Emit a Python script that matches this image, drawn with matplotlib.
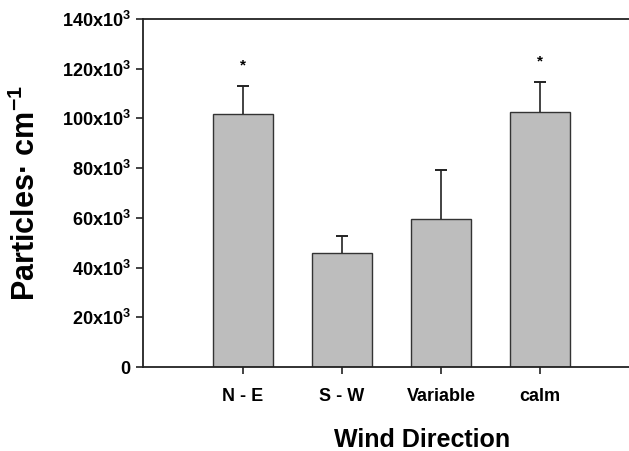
"""
plot.py

Particle number concentration by wind direction (bar chart with upper error bars).
"""

import matplotlib

matplotlib.use("Agg")
import matplotlib.pyplot as plt
import matplotlib.ticker as mtick

plt.rcParams["font.family"] = ["Liberation Sans", "DejaVu Sans"]
plt.rcParams["mathtext.fontset"] = "custom"
plt.rcParams["mathtext.rm"] = "Liberation Sans:bold"
plt.rcParams["mathtext.it"] = "Liberation Sans:bold"
plt.rcParams["mathtext.bf"] = "Liberation Sans:bold"

directions = ["N - E", "S - W", "Variable", "calm"]
particles = [101800, 45700, 59500, 102700]
errors = [11100, 7100, 19600, 11900]
significant = [True, False, False, True]

y_ticks = [0, 20000, 40000, 60000, 80000, 100000, 120000, 140000]


def thousands(x, pos):
    """Format y axis label as NNx10^3"""
    if x == 0:
        return "0"
    return "{:d}x10$^3$".format(int(round(x / 1000)))


fig = plt.figure(figsize=(6.29, 4.51), dpi=100)
fig.patch.set_facecolor("white")
ax = fig.add_axes([143 / 629, 84 / 451, 1 - 143 / 629, 348 / 451])

x = list(range(len(directions)))
tops = [p + e for p, e in zip(particles, errors)]

ax.bar(
    x,
    particles,
    width=0.6,
    color="#bdbdbd",
    edgecolor="#333333",
    linewidth=1.0,
    zorder=2,
)
# upper error bars only
ax.vlines(x, particles, tops, color="#222222", linewidth=1.2, zorder=3)
ax.hlines(tops, [xi - 0.06 for xi in x], [xi + 0.06 for xi in x],
          color="#222222", linewidth=1.4, zorder=3)

for xi, top, sig in zip(x, tops, significant):
    if sig:
        ax.text(xi, top + 8500, "*", ha="center", va="center",
                fontsize=11, fontweight="bold")

ax.set_xlim(-1.01, 3.9)
ax.set_ylim(0, 140000)
ax.set_yticks(y_ticks)
ax.yaxis.set_major_formatter(mtick.FuncFormatter(thousands))
ax.set_xticks(x)
ax.set_xticklabels(directions)

for spine in ["left", "bottom", "top"]:
    ax.spines[spine].set_linewidth(1.3)
    ax.spines[spine].set_color("#222222")
ax.spines["right"].set_visible(False)

ax.tick_params(axis="both", direction="out", length=5, width=1.2, color="#222222")
ax.tick_params(axis="y", labelsize=13, pad=4)
ax.tick_params(axis="x", labelsize=13, pad=10)
for lbl in ax.get_xticklabels() + ax.get_yticklabels():
    lbl.set_fontweight("bold")

ax.set_xlabel("Wind Direction", fontsize=18, fontweight="bold")
ax.xaxis.set_label_coords((422 - 143) / (629 - 143), -(447 - 367) / 348)
ax.xaxis.label.set_va("baseline")
ax.set_ylabel("Particles· cm$^{-1}$", fontsize=22, fontweight="bold")
ax.yaxis.set_label_coords(-(143 - 42) / (629 - 143), 0.5)

plt.savefig("out.png", dpi=100)
